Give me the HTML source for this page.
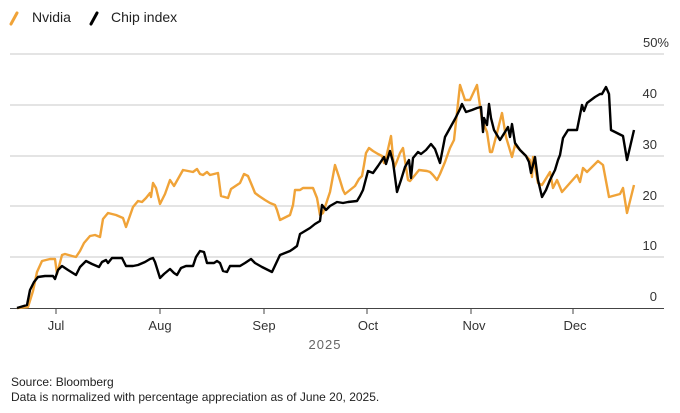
<!DOCTYPE html>
<html><head><meta charset="utf-8"><style>
body{margin:0;background:#fff;width:680px;height:413px;overflow:hidden}
svg{display:block;font-family:"Liberation Sans",sans-serif}
</style></head><body>
<svg width="680" height="413" viewBox="0 0 680 413" xmlns="http://www.w3.org/2000/svg">
<g stroke="#f0a338" stroke-width="3" stroke-linecap="round"><line x1="11" y1="24" x2="17" y2="13"/></g>
<text x="32" y="22" font-size="14" fill="#222">Nvidia</text>
<g stroke="#000" stroke-width="3" stroke-linecap="round"><line x1="91" y1="24" x2="97" y2="13"/></g>
<text x="111" y="22" font-size="14" fill="#222">Chip index</text>
<g stroke="#dcdcdc" stroke-width="1.5">
<line x1="10" y1="54" x2="664" y2="54"/>
<line x1="10" y1="105" x2="664" y2="105"/>
<line x1="10" y1="156" x2="664" y2="156"/>
<line x1="10" y1="206" x2="664" y2="206"/>
<line x1="10" y1="257" x2="664" y2="257"/>
</g>
<g font-size="13" fill="#333" text-anchor="end">
<text x="669" y="47">50%</text>
<text x="657" y="98">40</text>
<text x="657" y="149">30</text>
<text x="657" y="200">20</text>
<text x="657" y="250">10</text>
<text x="657" y="301">0</text>
</g>
<line x1="10" y1="308.5" x2="664" y2="308.5" stroke="#444" stroke-width="1"/>
<g stroke="#444" stroke-width="1">
<line x1="56" y1="308" x2="56" y2="314"/><line x1="160" y1="308" x2="160" y2="314"/>
<line x1="264" y1="308" x2="264" y2="314"/><line x1="367" y1="308" x2="367" y2="314"/>
<line x1="471" y1="308" x2="471" y2="314"/><line x1="573" y1="308" x2="573" y2="314"/>
</g>
<g font-size="13" fill="#333" text-anchor="middle">
<text x="56" y="330">Jul</text><text x="160" y="330">Aug</text><text x="264" y="330">Sep</text>
<text x="368" y="330">Oct</text><text x="474" y="330">Nov</text><text x="575" y="330">Dec</text>
<text x="325" y="349" fill="#666" letter-spacing="1">2025</text>
</g>
<polyline fill="none" stroke="#f0a338" stroke-width="2.4" stroke-linejoin="round" points="17,308 28,307 33,291 37,272 42,261 50,259 55,259 57,274 62,255 65,254 72,256 76,257 80,251 84,243 90,236 95,235 100,237 103,219 108,213 116,215 123,218 126,227 133,207 138,201 142,202 146,198 150,193 151,197 153,183 156,188 160,204 165,194 170,180 174,186 183,170 193,172 197,169 200,174 203,175 207,172 210,175 218,173 221,196 228,198 231,189 240,183 244,174 248,176 253,188 255,193 259,196 265,200 270,203 275,205 277,210 280,220 290,215 293,205 295,190 300,190 303,188 313,188 317,198 320,215 323,213 330,192 335,165 339,177 343,190 345,194 350,190 355,186 359,179 362,176 364,165 366,153 369,148 373,151 378,154 382,156 384,163 386,158 391,136 394,168 397,161 400,153 403,148 406,167 408,180 410,181 415,175 419,170 427,171 430,172 433,175 437,180 440,174 445,162 450,148 454,140 460,85 465,100 470,100 477,85 482,120 487,132 490,152 492,152 497,133 502,113 506,137 512,157 515,145 523,153 530,160 532,177 533,157 538,183 542,185 550,172 553,188 557,180 562,192 577,175 580,182 583,168 587,172 598,161 603,165 609,197 620,194 623,188 627,213 634,185"/>
<polyline fill="none" stroke="#000" stroke-width="2.4" stroke-linejoin="round" points="17,308 27,305 30,290 34,282 38,277 45,276 53,276 55,279 58,270 62,266 68,270 76,275 80,267 86,261 92,264 99,267 102,262 106,260 108,263 112,258 122,258 126,266 133,266 138,265 145,262 150,259 153,258 155,262 160,278 164,274 170,269 174,273 177,275 181,268 186,266 193,266 196,257 200,251 204,252 207,263 214,263 217,261 220,263 223,271 227,272 230,266 240,266 245,263 251,259 255,263 262,267 272,272 280,255 290,251 293,249 297,246 300,234 305,231 310,228 315,224 320,221 322,205 326,210 330,206 337,202 343,203 348,202 357,201 360,196 363,190 368,171 373,173 378,166 384,157 386,164 390,151 393,162 397,192 401,180 405,167 409,160 411,178 413,158 418,152 421,154 426,150 431,144 435,149 440,163 445,137 450,128 455,119 460,109 462,104 466,112 472,110 477,108 481,107 483,132 484,118 487,125 489,104 491,118 494,130 500,140 505,132 508,127 510,137 512,124 515,143 520,150 526,156 529,162 531,173 535,157 538,180 542,197 546,190 550,180 555,170 558,160 560,155 563,138 568,130 577,130 582,105 584,111 587,103 595,97 600,94 602,94 606,87 609,94 611,130 617,133 623,136 627,160 634,130"/>
<text x="11" y="386" font-size="12" fill="#222">Source: Bloomberg</text>
<text x="11" y="401" font-size="12" fill="#222">Data is normalized with percentage appreciation as of June 20, 2025.</text>
</svg>
</body></html>
